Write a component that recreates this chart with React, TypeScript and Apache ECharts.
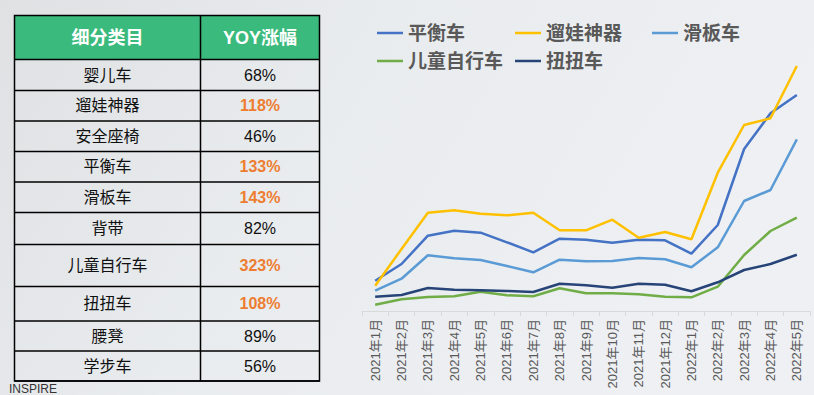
import React, { useEffect, useRef } from "react";
import * as echarts from "echarts";

const months = [
  "2021年1月", "2021年2月", "2021年3月", "2021年4月", "2021年5月", "2021年6月",
  "2021年7月", "2021年8月", "2021年9月", "2021年10月", "2021年11月", "2021年12月",
  "2022年1月", "2022年2月", "2022年3月", "2022年4月", "2022年5月",
];

const pingHengChe = [30.3, 47, 75.3, 80.3, 78.3, 68.7, 58.7, 72.3, 71.3, 68.3, 71.3, 70.7, 57.3, 86, 162, 197.7, 216];
const liuWaShenQi = [25.3, 62, 98.3, 100.7, 97.3, 95.7, 98.3, 80.7, 80.7, 91.3, 73.3, 79, 71.7, 138.3, 186, 192.7, 245];
const huaBanChe = [20.3, 32.3, 55.7, 52.7, 51, 45, 38.7, 51.3, 49.7, 50, 53, 51.7, 43.7, 63.7, 110, 121, 171.7];
const ertongZiXingChe = [6.3, 11.7, 14, 14.7, 19.3, 15.7, 14.7, 22.7, 17.7, 17.7, 16.7, 14.3, 13.7, 24.3, 56, 80, 93.3];
const niuNiuChe = [14.3, 16, 23, 21.3, 20.7, 20, 19, 27.3, 25.7, 23.3, 27.3, 26.3, 19.7, 28.7, 41, 47, 56.3];

const tableHeaders = ["细分类目", "YOY涨幅"];
const tableCategories = ["婴儿车", "遛娃神器", "安全座椅", "平衡车", "滑板车", "背带", "儿童自行车", "扭扭车", "腰凳", "学步车"];
const tableYoy = [68, 118, 46, 133, 143, 82, 323, 108, 89, 56];

const FONT = "'Liberation Sans', 'Noto Sans CJK SC', sans-serif";

export default function App() {
  const ref = useRef<HTMLDivElement>(null);

  useEffect(() => {
    if (!ref.current) return;
    const chart = echarts.init(ref.current, undefined, { renderer: "svg" });

    const seriesDefs = [
      { name: "平衡车", data: pingHengChe, color: "#4472c4" },
      { name: "遛娃神器", data: liuWaShenQi, color: "#ffc000" },
      { name: "滑板车", data: huaBanChe, color: "#5b9bd5" },
      { name: "儿童自行车", data: ertongZiXingChe, color: "#70ad47" },
      { name: "扭扭车", data: niuNiuChe, color: "#264478" },
    ];

    const legendPos = [
      { left: 377, top: 23 },
      { left: 515, top: 23 },
      { left: 652, top: 23 },
      { left: 377, top: 51 },
      { left: 515, top: 51 },
    ];

    // Table layout
    const tL = 14.5, tR = 319.5, tMid = 200.5, tTop = 15.5;
    const rowLines = [59.5, 90.5, 121, 151.5, 182, 212.5, 244.5, 286.5, 321, 351, 381];
    const graphics: any[] = [];
    graphics.push({
      type: "rect",
      shape: { x: tL, y: tTop, width: tR - tL, height: rowLines[0] - tTop },
      style: { fill: "#3aba7c" },
    });
    graphics.push({
      type: "text",
      x: (tL + tMid) / 2,
      y: (tTop + rowLines[0]) / 2,
      style: {
        text: tableHeaders[0], fill: "#ffffff", font: `bold 18px ${FONT}`,
        align: "center", verticalAlign: "middle", textAlign: "center", textVerticalAlign: "middle",
      },
    });
    graphics.push({
      type: "text",
      x: (tMid + tR) / 2,
      y: (tTop + rowLines[0]) / 2,
      style: {
        text: tableHeaders[1], fill: "#ffffff", font: `bold 18px ${FONT}`,
        align: "center", verticalAlign: "middle", textAlign: "center", textVerticalAlign: "middle",
      },
    });
    tableCategories.forEach((c, i) => {
      const cy = (rowLines[i] + rowLines[i + 1]) / 2;
      const hi = tableYoy[i] > 100;
      graphics.push({
        type: "text",
        x: (tL + tMid) / 2,
        y: cy,
        style: {
          text: c, fill: "#111111", font: `16px ${FONT}`,
          align: "center", verticalAlign: "middle", textAlign: "center", textVerticalAlign: "middle",
        },
      });
      graphics.push({
        type: "text",
        x: (tMid + tR) / 2,
        y: cy,
        style: {
          text: tableYoy[i] + "%", fill: hi ? "#ed7d31" : "#111111",
          font: `${hi ? "bold " : ""}16px ${FONT}`,
          align: "center", verticalAlign: "middle", textAlign: "center", textVerticalAlign: "middle",
        },
      });
    });
    rowLines.forEach((y) => {
      graphics.push({
        type: "line",
        shape: { x1: tL, y1: y, x2: tR, y2: y },
        style: { stroke: "#000000", lineWidth: 1.5 },
      });
    });
    graphics.push({
      type: "rect",
      shape: { x: tL, y: tTop, width: tR - tL, height: rowLines[rowLines.length - 1] - tTop },
      style: { fill: "none", stroke: "#000000", lineWidth: 1.5 },
    });
    graphics.push({
      type: "line",
      shape: { x1: tMid, y1: tTop, x2: tMid, y2: rowLines[rowLines.length - 1] },
      style: { stroke: "#000000", lineWidth: 1.5 },
    });
    graphics.push({
      type: "text",
      x: 9,
      y: 383,
      style: { text: "INSPIRE", fill: "#333333", font: `12px ${FONT}` },
    });

    chart.setOption({
      animation: false,
      backgroundColor: new echarts.graphic.LinearGradient(0, 0, 1, 0.3, [
        { offset: 0, color: "#dfe1e3" },
        { offset: 0.45, color: "#e9ecee" },
        { offset: 1, color: "#eef0f3" },
      ]),
      legend: seriesDefs.map((s, i) => ({
        data: [s.name],
        left: legendPos[i].left,
        top: legendPos[i].top,
        padding: 0,
        icon: "rect",
        itemWidth: 26,
        itemHeight: 2.5,
        itemGap: 6,
        textStyle: {
          color: "#595959",
          fontSize: 19,
          fontWeight: "bold",
          fontFamily: FONT,
          lineHeight: 20,
        },
      })),
      grid: { left: 362, right: 4, top: 61, bottom: 84 },
      xAxis: {
        type: "category",
        data: months,
        boundaryGap: true,
        axisLine: { lineStyle: { color: "#d9d9d9", width: 1 } },
        axisTick: { show: true, length: 5, lineStyle: { color: "#d9d9d9" } },
        axisLabel: {
          rotate: 90,
          interval: 0,
          margin: 8,
          fontSize: 13,
          color: "#595959",
          fontFamily: FONT,
        },
      },
      yAxis: { type: "value", min: 0, max: 250, show: false, splitLine: { show: false } },
      graphic: graphics,
      series: seriesDefs.map((s) => ({
        name: s.name,
        type: "line",
        data: s.data,
        showSymbol: false,
        symbol: "none",
        color: s.color,
        lineStyle: { color: s.color, width: 2.5 },
      })),
    });

    return () => chart.dispose();
  }, []);

  return (
    <div
      ref={ref}
      style={{ position: "fixed", left: 0, top: 0, width: 814, height: 395 }}
    />
  );
}
